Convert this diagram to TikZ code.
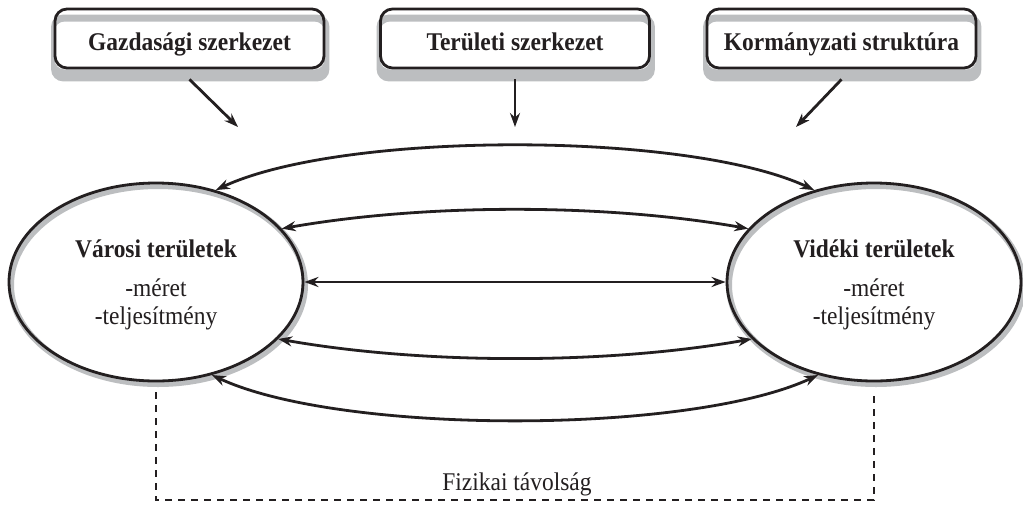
\documentclass[tikz,border=0pt]{standalone}
\usepackage{fontspec}
\setmainfont[FakeStretch=0.92]{Liberation Serif}
\usetikzlibrary{shapes,arrows.meta,backgrounds}
\definecolor{ink}{RGB}{35,31,32}
\definecolor{rim}{RGB}{188,190,192}
\tikzset{
  factor/.style={draw=ink, line width=2.8pt, rounded corners=12pt,
    minimum width=269pt, minimum height=59pt, text height=27pt, text depth=3pt,
    font=\fontsize{25.5}{29}\selectfont\bfseries, text=ink},
  region/.style={ellipse, draw=ink, line width=2.8pt, minimum width=294pt,
    minimum height=198pt, align=center, font=\fontsize{25.5}{28}\selectfont, text=ink},
  link/.style={draw=ink, line width=2.8pt},
  distline/.style={draw=ink, line width=2.8pt, dash pattern=on 7pt off 6pt}
}

\begin{document}
\begin{tikzpicture}[x=1pt, y=-1pt, >={Stealth[length=14pt,width=10pt]}]
  \useasboundingbox (0,0) rectangle (1023,504);

  \node[factor] (econ) at (189.5,38.5) {Gazdasági szerkezet};
  \node[factor] (terr) at (515,38.5) {Területi szerkezet};
  \node[factor] (gov) at (841.5,38.5) {Kormányzati struktúra};

  \node[region] (urban) at (156,282) {\rule{0pt}{24pt}\textbf{Városi területek}\\[11pt]-méret\\-teljesítmény};
  \node[region] (rural) at (874,282) {\rule{0pt}{24pt}\textbf{Vidéki területek}\\[11pt]-méret\\-teljesítmény};

  \node[anchor=base, font=\fontsize{25.5}{28}\selectfont, text=ink] (dist) at (517,490) {Fizikai távolság};

  % grey rims
  \begin{scope}[on background layer]
    \fill[white] (0,0) rectangle (1023,504);
    \foreach \b in {econ,terr,gov}{
      \fill[rim, rounded corners=12pt] ([shift={(-2.5,7)}]\b.north west) rectangle ([shift={(4,12)}]\b.south east);
      \fill[white, rounded corners=10pt] ([shift={(1,14)}]\b.north west) rectangle ([shift={(-1,0)}]\b.south east);
    }
    \foreach \r in {urban,rural}
      \draw[rim, line width=6pt, fill=white] ([shift={(2,3)}]\r.center) ellipse [x radius=147pt, y radius=99pt];
  \end{scope}

  \coordinate (econin) at (238,127);
  \coordinate (terrin) at (515,127);
  \coordinate (govin) at (796,127);
  \draw[link,->] ([yshift=-10pt]econ.south) -- (econin);
  \draw[link,->] ([yshift=-10pt]terr.south) -- (terrin);
  \draw[link,->] ([yshift=-10pt]gov.south) -- (govin);

  \draw[link,<->] (urban.57) to[bend left=25, looseness=0.6] (rural.123);
  \draw[link,<->] (urban.23) to[bend left=10, looseness=0.8] (rural.157);
  \draw[link,<->] (urban.east) -- (rural.west);
  \draw[link,<->] (urban.-25) to[bend right=10, looseness=0.8] (rural.-155);
  \draw[link,<->] (urban.-59) to[bend right=25, looseness=0.6] (rural.-121);

  \coordinate (gap) at (515,500);
  \draw[distline] ([yshift=-10pt]urban.south) |- (gap) -| ([yshift=-10pt]rural.south);
\end{tikzpicture}
\end{document}
